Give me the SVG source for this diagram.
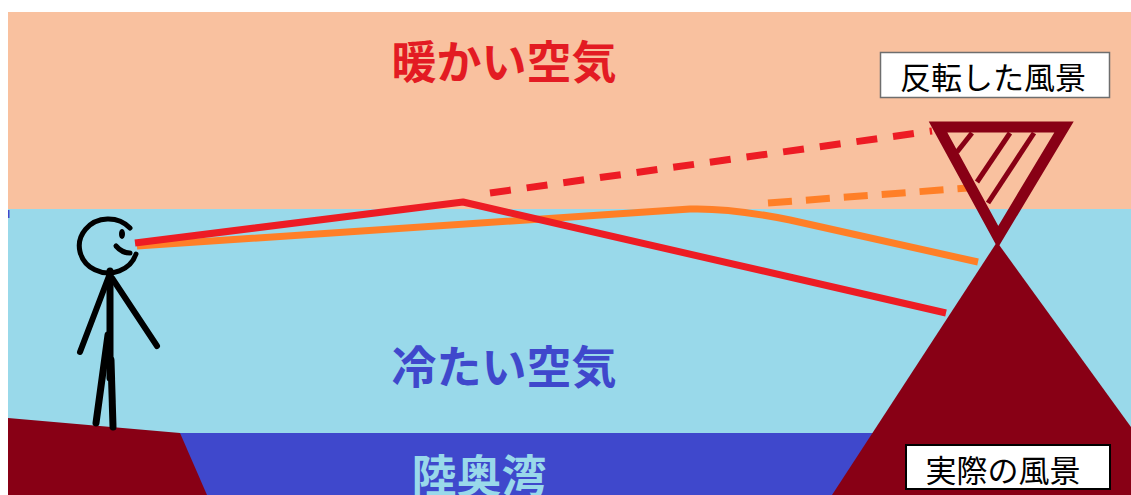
<svg xmlns="http://www.w3.org/2000/svg" width="1131" height="495" viewBox="0 0 1131 495">
  <style>
    .jp { font-family: "Noto Sans CJK JP", "Noto Sans", sans-serif; }
    .big { font-size: 45px; font-weight: 700; text-anchor: middle; }
    .box { fill: #ffffff; }
    .boxtxt { font-size: 31px; text-anchor: middle; fill: #000000; }
    .ink { fill: none; stroke: #000000; stroke-linecap: round; stroke-linejoin: round; }
    .ray { fill: none; stroke-linejoin: round; }
  </style>

  <!-- page -->
  <rect x="0" y="0" width="1131" height="495" fill="#ffffff"/>

  <!-- air layers -->
  <g id="warm-air">
    <rect x="8" y="12" width="1123" height="197" fill="#f9c19f"/>
  </g>
  <g id="cold-air">
    <rect x="8" y="209" width="1123" height="286" fill="#99d9ea"/>
    <rect x="8" y="210" width="1.5" height="8" fill="#3f48cc"/>
  </g>

  <!-- sea -->
  <g id="bay">
    <rect x="178" y="433" width="700" height="62" fill="#3f48cc"/>
  </g>

  <!-- shore under the observer -->
  <g id="left-cliff">
    <polygon points="8,418 180,433 207,495 8,495" fill="#880015"/>
  </g>

  <!-- light paths -->
  <g id="connectors">
    <path class="ray" d="M137,246 L690,209 C720,208 750,212 790,220 L978,262" stroke="#ff7f27" stroke-width="7"/>
    <path class="ray" d="M768,203 L968,188" stroke="#ff7f27" stroke-width="7" stroke-dasharray="24 14"/>
    <path class="ray" d="M135,243 L463,202 L946,313" stroke="#ed1c24" stroke-width="7"/>
    <path class="ray" d="M490,193 L932,131" stroke="#ed1c24" stroke-width="7" stroke-dasharray="21 16"/>
  </g>

  <!-- real mountain -->
  <g id="mountain">
    <polygon points="997,242 1131,427 1131,495 832,495" fill="#880015"/>
  </g>

  <!-- mirage (inverted mountain) -->
  <g id="inverted-mountain" fill="none" stroke="#880015">
    <polygon points="938,127 1064,127 998,237" stroke-width="11" stroke-linejoin="miter"/>
    <line x1="972" y1="133" x2="957" y2="152" stroke-width="5"/>
    <line x1="1010" y1="133" x2="977" y2="182" stroke-width="5"/>
    <line x1="1034" y1="133" x2="988" y2="203" stroke-width="5"/>
  </g>

  <!-- observer -->
  <g id="person">
    <path class="ink" d="M130,228 A29,27 0 1 0 136,254" stroke-width="5"/>
    <ellipse cx="122" cy="234" rx="3" ry="5" fill="#000000"/>
    <path class="ink" d="M116,246 Q122,253 130,253" stroke-width="5"/>
    <line class="ink" x1="110" y1="271" x2="110" y2="378" stroke-width="7"/>
    <line class="ink" x1="109" y1="276" x2="80" y2="352" stroke-width="6"/>
    <line class="ink" x1="112" y1="278" x2="157" y2="346" stroke-width="6"/>
    <line class="ink" x1="108" y1="335" x2="96" y2="423" stroke-width="7"/>
    <line class="ink" x1="111" y1="360" x2="113" y2="427" stroke-width="7"/>
  </g>

  <!-- region labels -->
  <g id="label-warm">
    <text class="jp big" x="504" y="79" fill="#e31b23">暖かい空気</text>
  </g>
  <g id="label-cold">
    <text class="jp big" x="504" y="384" fill="#3f48cc">冷たい空気</text>
  </g>
  <g id="label-bay">
    <text class="jp big" x="479" y="493" fill="#99d9ea">陸奥湾</text>
  </g>

  <!-- callouts -->
  <g id="label-mirage">
    <rect class="box" x="880.5" y="52.5" width="229" height="45" stroke="#6e6e6e" stroke-width="1.5"/>
    <text class="jp boxtxt" x="993" y="89">反転した風景</text>
  </g>
  <g id="label-real">
    <rect class="box" x="906" y="445" width="204" height="44" stroke="#000000" stroke-width="2"/>
    <text class="jp boxtxt" x="1003" y="482">実際の風景</text>
  </g>
</svg>
